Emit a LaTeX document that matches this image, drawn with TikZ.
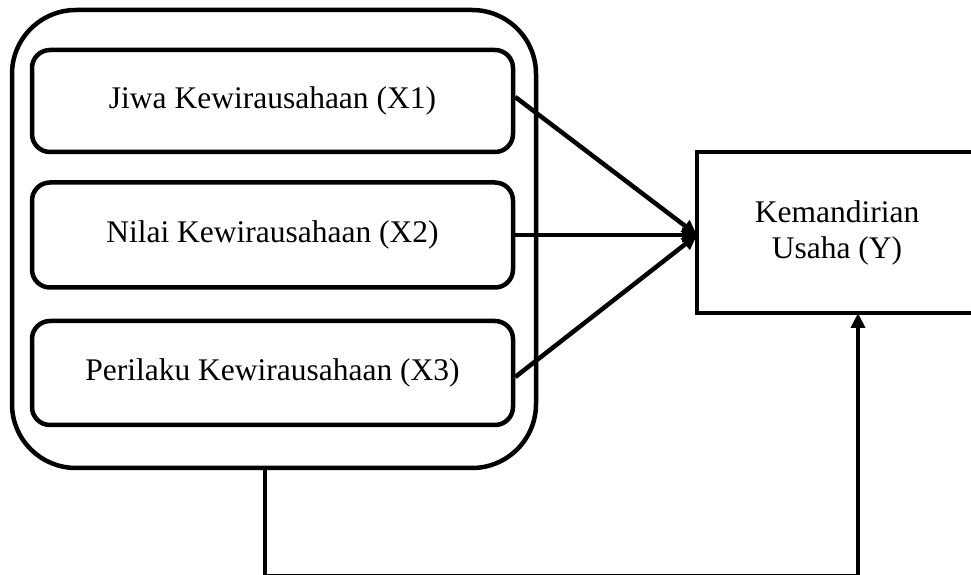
\documentclass[tikz,border=0pt]{standalone}
\usepackage{fontspec}
\setmainfont{Liberation Serif}
\usetikzlibrary{arrows.meta}
\begin{document}
\begin{tikzpicture}[x=1pt,y=1pt,
  inbox/.style={draw,line width=4.5pt,rounded corners=18pt,minimum width=481pt,inner sep=0pt,font=\fontsize{31.5}{38}\selectfont},
  ybox/.style={draw,line width=4.5pt,minimum width=280pt,minimum height=161pt,inner sep=0pt,align=center,font=\fontsize{31.5}{38}\selectfont},
  conn/.style={line width=4.5pt,-{Triangle[length=15pt,width=14pt]}}]
\clip (0,0) rectangle (971,575);
\useasboundingbox (0,0) rectangle (971,575);
\draw[line width=4.5pt,rounded corners=64pt] (12,565) rectangle (536,107);
\node[inbox,minimum height=102pt] (b1) at (272.5,474) {Jiwa Kewirausahaan (X1)};
\node[inbox,minimum height=105pt] (b2) at (272.5,340) {Nilai Kewirausahaan (X2)};
\node[inbox,minimum height=104pt] (b3) at (272.5,202) {Perilaku Kewirausahaan (X3)};
\node[ybox] (Y) at (837,342.5) {Kemandirian\\[-2pt]Usaha (Y)};
\coordinate (tip) at (697,340);
\coordinate (ob) at (265,107);
\draw[conn] ([yshift=4pt]b1.east) -- (tip);
\draw[conn] (b2.east) -- (tip);
\draw[conn] ([yshift=-4pt]b3.east) -- (tip);
\draw[line width=4.5pt,-{Triangle[length=15pt,width=14pt]}] (ob) -- (265,-1.6) -- (858,-1.6) -- (858,262);
\end{tikzpicture}
\end{document}
